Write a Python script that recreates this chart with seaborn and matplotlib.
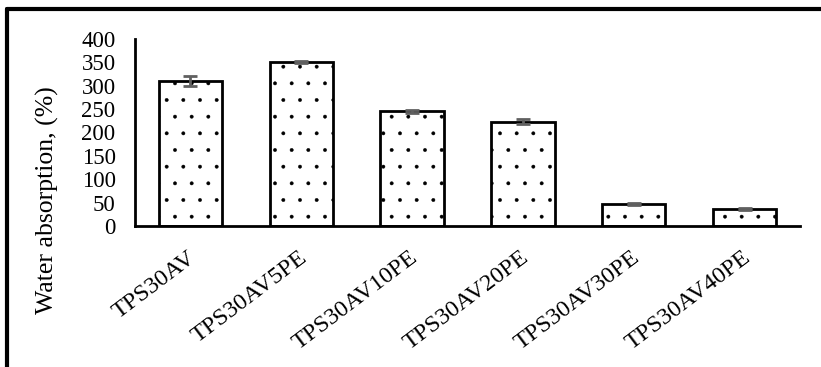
import matplotlib
matplotlib.use("Agg")
import matplotlib.pyplot as plt
import seaborn as sns
import pandas as pd
from matplotlib.lines import Line2D
import matplotlib.transforms as mtransforms

categories = ["TPS30AV", "TPS30AV5PE", "TPS30AV10PE", "TPS30AV20PE", "TPS30AV30PE", "TPS30AV40PE"]
values = [310, 351, 245, 223, 47, 36]
errors = [10, 2, 4, 5, 3, 2]
yticks = [0, 50, 100, 150, 200, 250, 300, 350, 400]

df = pd.DataFrame({"sample": categories, "wa": values})

sns.set_theme(style="white")
plt.rcParams["font.family"] = ["Liberation Serif", "DejaVu Serif"]
plt.rcParams["hatch.linewidth"] = 0.3
plt.rcParams["hatch.color"] = "black"

fig = plt.figure(figsize=(8.21, 3.67), dpi=100)
ax = fig.add_axes([135 / 821, 1 - 226 / 367, (800 - 135) / 821, (226 - 39) / 367])

sns.barplot(data=df, x="sample", y="wa", ax=ax, color="white", width=0.57,
            edgecolor="black", linewidth=2, errorbar=None)
for p in ax.patches:
    p.set_hatch(".")
    p.set_facecolor("white")
    p.set_edgecolor("black")

ax.errorbar(range(len(categories)), values, yerr=errors, fmt="none",
            ecolor="#606060", elinewidth=2, capsize=5, capthick=2, zorder=5)

ax.set_ylim(0, 400)
ax.set_xlim(-0.5, 5.5)
ax.set_yticks(yticks)
ax.set_yticklabels([str(t) for t in yticks], fontsize=16.5)
ax.tick_params(axis="y", length=0, pad=14, colors="black")
ax.tick_params(axis="x", length=0, pad=15, colors="black")
ax.set_xticks(range(len(categories)))
ax.set_xticklabels(categories, fontsize=17.5, rotation=37, ha="right",
                   va="top", rotation_mode="anchor")
offset = mtransforms.ScaledTranslation(-3 / 100, 0, fig.dpi_scale_trans)
for lab in ax.get_xticklabels():
    lab.set_transform(lab.get_transform() + offset)

ax.set_xlabel("")
ax.set_ylabel("")
for s in ["top", "right"]:
    ax.spines[s].set_visible(False)
for s in ["left", "bottom"]:
    ax.spines[s].set_color("black")
    ax.spines[s].set_linewidth(2)

fig.text(47 / 821, 1 - 200 / 367, "Water absorption, (%)", rotation=90,
         ha="center", va="center", fontsize=18.5, color="black")

# outer frame (only top and left edges visible in the cropped reference)
fig.add_artist(Line2D([7 / 821, 1.0], [1 - 9 / 367, 1 - 9 / 367], color="black", lw=3,
                      transform=fig.transFigure))
fig.add_artist(Line2D([7 / 821, 7 / 821], [0, 1 - 9 / 367], color="black", lw=3,
                      transform=fig.transFigure))

fig.savefig("out.png", dpi=100)
